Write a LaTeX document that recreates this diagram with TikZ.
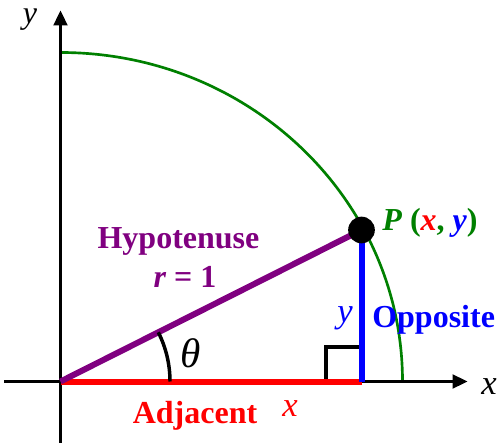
\documentclass[tikz,border=0pt]{standalone}
\usepackage{fontspec}
\setmainfont{Liberation Serif}
\usepackage{xcolor}
\usepackage{tikz}
\usetikzlibrary{arrows.meta, positioning}
\definecolor{trigred}{RGB}{255,0,0}
\definecolor{trigblue}{RGB}{0,0,255}
\definecolor{trigpurple}{RGB}{128,0,128}
\definecolor{triggreen}{RGB}{0,128,0}

\begin{document}
\begin{tikzpicture}[
  x=0.75pt, y=0.75pt,
  axis/.style={line width=1.7pt, -{Triangle[length=11.25pt, width=10.5pt]}},
  side/.style={line width=4.5pt},
  lbl/.style={font=\fontsize{24}{28}\selectfont\bfseries, inner sep=0pt, anchor=base},
  var/.style={font=\fontsize{26}{30}\selectfont\itshape, inner sep=0pt, anchor=base},
  dot/.style={circle, fill=black, minimum size=20pt, inner sep=0pt}
]
\useasboundingbox (-60.5,-60.5) rectangle (437.5,381.5);

\coordinate (O) at (0,0);
\coordinate (A) at (301,0);
\coordinate (Pc) at (301,151.5);
\coordinate (R) at (342,0);
\coordinate (xl) at (-56,0);
\coordinate (xr) at (407,0);
\coordinate (yb) at (0,-61);
\coordinate (yt) at (0,371);

% unit circle
\draw[triggreen, line width=2pt] (R)
  arc[start angle=0, end angle=90, x radius=256.5pt, y radius=246.75pt];

% axes
\draw[axis] (xl) -- (xr);
\draw[axis] (yb) -- (yt);
\node[var, font=\fontsize{24}{28}\selectfont\itshape, anchor=center] (ylab) at (-30.5,362) {y};
\node[var, anchor=center] (xlab) at (428.5,-5.5) {x};

% right angle mark
\draw[line width=2.3pt] (265.5,0) |- (301,34.5);

% triangle sides
\foreach \from/\to/\c in {O/A/trigred, A/Pc/trigblue, O/Pc/trigpurple}
  \draw[side, \c] (\from) -- (\to);

% angle
\draw[line width=2.6pt] (109.5,0) arc[start angle=0, end angle=26.7, radius=82.1pt];
\node[font=\fontsize{31}{34}\selectfont\itshape, inner sep=0pt] (theta) at (130.5,28.5) {θ};

\node[dot] (P) at (Pc) {};

% labels
\node[lbl, text=trigpurple] (hyp) at (118,132.5) {Hypotenuse};
\node[lbl, text=trigpurple] (rad) at (124.5,93.5) {\textit{r} = 1};
\node[lbl, text=trigred] (adj) at (134.5,-41.5) {Adjacent};
\node[var, text=trigred] (xside) at (229.5,-34.5) {x};
\node[lbl, text=trigblue, anchor=base west] (opp) at (311.5,54.5) {Opposite};
\node[var, text=trigblue] (yside) at (284.5,59.5) {y};
\node[lbl, anchor=base west, text=triggreen] (plab) at (321.5,150.5)
  {\textit{P} (\textcolor{trigred}{\textit{x}}, \textcolor{trigblue}{\textit{y}})};
\end{tikzpicture}
\end{document}
